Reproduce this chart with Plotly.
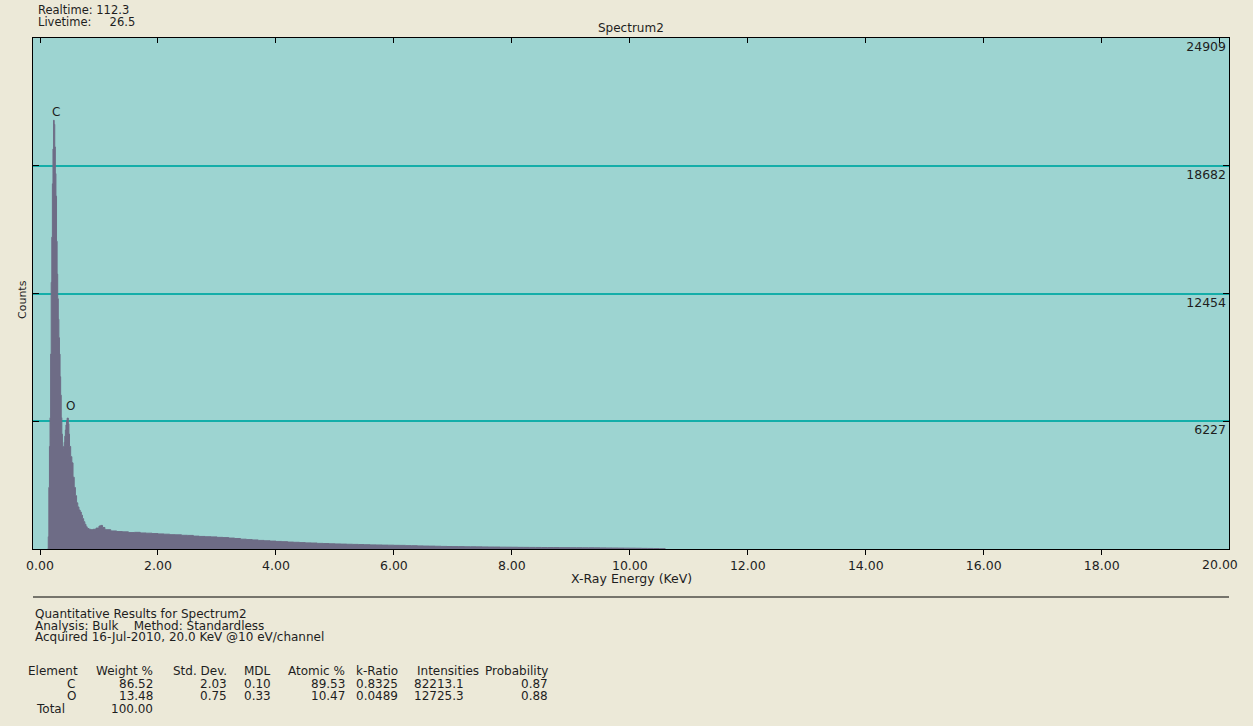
import plotly.graph_objects as go

# ---------------- data ----------------
energy_kev = [
    0.13, 0.14, 0.15, 0.16, 0.17, 0.18, 0.19, 0.20, 0.21, 0.22, 0.23, 0.24, 0.25, 0.26, 0.27,
    0.28, 0.29, 0.30, 0.31, 0.32, 0.33, 0.34, 0.35, 0.36, 0.37, 0.38, 0.39, 0.40, 0.41, 0.42,
    0.43, 0.44, 0.45, 0.46, 0.47, 0.48, 0.49, 0.50, 0.52, 0.54, 0.56, 0.58, 0.60, 0.62, 0.64,
    0.66, 0.68, 0.70, 0.72, 0.74, 0.76, 0.78, 0.80, 0.83, 0.86, 0.90, 0.95, 1.00, 1.03, 1.06,
    1.1, 1.2, 1.3, 1.4, 1.5, 1.6, 1.7, 1.8, 1.9, 2.0,
    2.1, 2.2, 2.3, 2.4, 2.5, 2.6, 2.7, 2.8, 2.9, 3.0,
    3.1, 3.2, 3.3, 3.4, 3.5, 3.6, 3.7, 3.8, 3.9, 4.0,
    4.1, 4.2, 4.3, 4.4, 4.5, 4.6, 4.7, 4.8, 4.9, 5.0,
    5.1, 5.2, 5.3, 5.4, 5.5, 5.6, 5.7, 5.8, 5.9, 6.0,
    6.1, 6.2, 6.3, 6.4, 6.5, 6.6, 6.7, 6.8, 6.9, 7.0,
    7.1, 7.2, 7.3, 7.4, 7.5, 7.6, 7.7, 7.8, 7.9, 8.0,
    8.1, 8.2, 8.3, 8.4, 8.5, 8.6, 8.7, 8.8, 8.9, 9.0,
    9.1, 9.2, 9.3, 9.4, 9.5, 9.6, 9.7, 9.8, 9.9, 10.0,
    10.1, 10.2, 10.3, 10.4, 10.5, 10.6,
]
counts = [
    0, 600, 3000, 5000, 6400, 9500, 13000, 15200, 17800, 19500, 20900, 20700, 19600, 18300, 17200,
    15000, 13400, 12200, 11200, 10300, 9500, 8400, 7500, 6400, 5600, 5000, 4900, 5000, 5200, 5500,
    5800, 6050, 6250, 6380, 6380, 6100, 5600, 5000, 4500, 4200, 3500, 3000, 2600, 2250, 2050,
    1900, 1800, 1650, 1480, 1330, 1200, 1080, 1000, 960, 940, 960, 1020, 1120, 1150, 1050,
    940, 880, 850, 835, 800, 812, 782, 770, 752, 735,
    722, 698, 690, 668, 662, 628, 612, 598, 591, 568,
    556, 533, 512, 478, 457, 441, 418, 402, 386, 369,
    357, 338, 326, 311, 298, 291, 274, 266, 254, 246,
    239, 231, 224, 216, 209, 201, 196, 189, 186, 179,
    176, 164, 161, 151, 144, 141, 134, 126, 121, 117,
    116, 109, 108, 104, 101, 97, 96, 89, 88, 86,
    81, 80, 77, 76, 73, 72, 70, 67, 66, 63,
    62, 59, 58, 55, 54, 50, 48, 45, 42, 40,
    36, 31, 28, 22, 15, 0,
]
y_tick_values = [6227, 12454, 18682, 24909]
y_tick_labels = ["6227", "12454", "18682", "24909"]
x_tick_values = [0, 2, 4, 6, 8, 10, 12, 14, 16, 18, 20]
x_tick_labels = ["0.00", "2.00", "4.00", "6.00", "8.00", "10.00",
                 "12.00", "14.00", "16.00", "18.00", "20.00"]

peak_labels = ["C", "O"]
peak_label_energy = [0.271, 0.523]
peak_label_counts = [21300, 6960]

chart_title = "Spectrum2"
realtime = "112.3"
livetime = "26.5"

header_lines = [
    "Quantitative Results for Spectrum2",
    "Analysis: Bulk    Method: Standardless",
    "Acquired 16-Jul-2010, 20.0 KeV @10 eV/channel",
]
table_columns = ["Element", "Weight %", "Std. Dev.", "MDL", "Atomic %",
                 "k-Ratio", "Intensities", "Probability"]
row_c = ["C", "86.52", "2.03", "0.10", "89.53", "0.8325", "82213.1", "0.87"]
row_o = ["O", "13.48", "0.75", "0.33", "10.47", "0.0489", "12725.3", "0.88"]
row_total = ["Total", "100.00"]

# ---------------- style / layout ----------------
W, H = 1253, 726
PL, PR, PT, PB = 33, 1229, 38, 549   # plot area in pixels
FONT = "DejaVu Sans"
FS = 12
TXT = "#1e1e1e"
X_RANGE = [-0.1187, 20.158]
Y_RANGE = [0, 24909]

def px(x):
    return (x - PL) / (PR - PL)

def py(y):
    return (PB - y) / (PB - PT)

fig = go.Figure()
fig.add_trace(go.Scatter(
    x=energy_kev, y=counts, mode="lines", line=dict(shape="hv", width=1, color="#6e6c86"),
    fill="tozeroy", fillcolor="#6e6c86", hoverinfo="skip", showlegend=False,
))
# invisible traces carrying the top tick axis and the right label axis
fig.add_trace(go.Scatter(x=[0], y=[0], xaxis="x2", yaxis="y", mode="markers",
                         marker=dict(opacity=0), hoverinfo="skip", showlegend=False))
fig.add_trace(go.Scatter(x=[0], y=[0], xaxis="x", yaxis="y2", mode="markers",
                         marker=dict(opacity=0), hoverinfo="skip", showlegend=False))

anns = []
for lab, ex, cy in zip(peak_labels, peak_label_energy, peak_label_counts):
    anns.append(dict(x=ex, y=cy, xref="x", yref="y", text=lab, showarrow=False,
                     font=dict(family=FONT, size=FS, color=TXT)))

# plotly drops the last x tick label next to the right edge; draw it at its tick value
anns.append(dict(x=x_tick_values[-1], y=py(564), xref="x", yref="paper",
                 text=x_tick_labels[-1], showarrow=False, xanchor="center", yanchor="middle",
                 font=dict(family=FONT, size=12.5, color=TXT)))
axis_tick_text = x_tick_labels[:-1] + [""]

def text(xp, yp, s, anchor="left", size=FS):
    anns.append(dict(x=px(xp), y=py(yp), xref="paper", yref="paper", text=s,
                     showarrow=False, xanchor=anchor, yanchor="middle",
                     font=dict(family=FONT, size=size, color=TXT)))

text(36, 10, "Realtime: " + realtime, size=11.5)
text(36, 21.5, "Livetime:     " + livetime, size=11.5)
text((PL + PR) / 2, 28, chart_title, "center")
text((PL + PR) / 2, 578, "X-Ray Energy (KeV)", "center", size=12.5)
anns.append(dict(x=px(22), y=py(300), xref="paper", yref="paper", text="Counts",
                 textangle=-90, showarrow=False, xanchor="center", yanchor="middle",
                 font=dict(family=FONT, size=11, color=TXT)))

for i, s in enumerate(header_lines):
    text(33, 614 + i * 11.7, s)

ROW_Y = [671, 683.5, 696, 708.5]
col_right = [80, 155, 229, 273, 347, 400, 481, 550]
val_right = [None, 155, 229, 273, 347, 400, 466, 550]
for c, r in zip(table_columns, col_right):
    text(r, ROW_Y[0], c, "right")
for ri, row in enumerate([row_c, row_o]):
    text(71, ROW_Y[ri + 1], row[0], "center")
    for v, r in zip(row[1:], val_right[1:]):
        text(r, ROW_Y[ri + 1], v, "right")
text(67, ROW_Y[3], row_total[0], "right")
text(val_right[1], ROW_Y[3], row_total[1], "right")

fig.update_layout(
    width=W, height=H,
    margin=dict(l=PL, r=W - PR, t=PT, b=H - PB, pad=0),
    paper_bgcolor="#ECE9D8", plot_bgcolor="#9dd4d1",
    font=dict(family=FONT, size=FS, color=TXT),
    xaxis=dict(range=X_RANGE, tickmode="array", tickvals=x_tick_values, ticktext=axis_tick_text,
               ticks="outside", ticklen=5, tickcolor="#000", showline=True, linecolor="#000",
               linewidth=1, mirror=True, showgrid=False, zeroline=False,
               ticklabeloverflow="allow", automargin=False,
               tickfont=dict(family=FONT, size=12.5, color=TXT)),
    xaxis2=dict(overlaying="x", side="top", range=X_RANGE, tickmode="array",
                tickvals=x_tick_values,
                ticks="inside", ticklen=5, tickcolor="#000", showticklabels=False,
                showline=False, showgrid=False, zeroline=False),
    yaxis=dict(range=Y_RANGE, side="right", tickvals=y_tick_values,
               ticks="inside", ticklen=6, tickcolor="#000", showticklabels=False,
               showline=True, linecolor="#000", linewidth=1, mirror="ticks",
               showgrid=True, gridcolor="#14aea9", gridwidth=1.5, zeroline=False),
    yaxis2=dict(overlaying="y", side="right", range=Y_RANGE, tickvals=y_tick_values,
                ticktext=y_tick_labels, ticks="", ticklabelposition="inside bottom",
                ticklabelstandoff=0, showline=False, showgrid=False, zeroline=False,
                tickfont=dict(family=FONT, size=12.5, color=TXT)),
    annotations=anns,
    shapes=[dict(type="line", xref="paper", yref="paper", x0=0, x1=1,
                 y0=py(597), y1=py(597), line=dict(color="#000", width=1))],
)

fig.write_html(
    "out.html",
    config={"displayModeBar": False},
    post_script="document.body.style.margin='0';document.body.style.background='#ECE9D8';",
)
